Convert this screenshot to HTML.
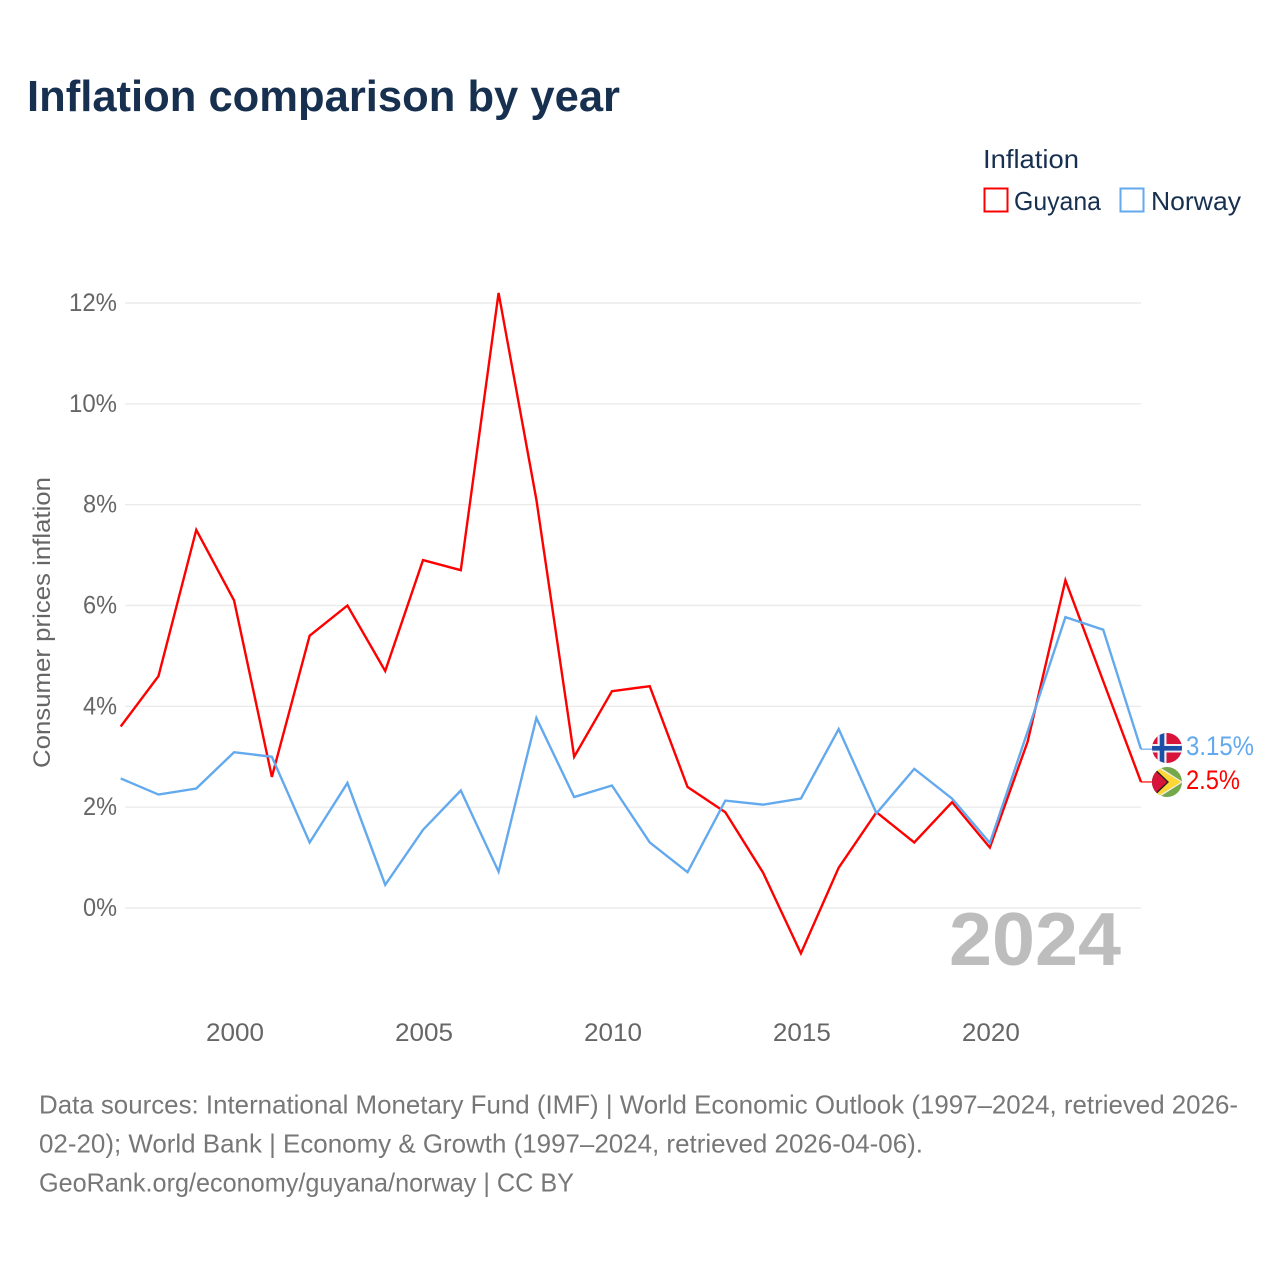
<!DOCTYPE html>
<html>
<head>
<meta charset="utf-8">
<title>Inflation comparison by year</title>
<style>
html,body{margin:0;padding:0;background:#fff;}
svg{display:block;}
text{font-family:"Liberation Sans",sans-serif;}
</style>
</head>
<body>
<svg id="chart" width="1280" height="1280" viewBox="0 0 1280 1280" xmlns="http://www.w3.org/2000/svg">
<defs>
<clipPath id="clip-no"><circle cx="1167" cy="748" r="15"/></clipPath>
<clipPath id="clip-gy"><circle cx="1167" cy="782" r="15"/></clipPath>
</defs>
<rect width="1280" height="1280" fill="#fff"/>
<text x="27" y="111" font-size="44" font-weight="bold" fill="#17304f" textLength="593" lengthAdjust="spacingAndGlyphs">Inflation comparison by year</text>

<g id="grid"></g>
<g id="yticks"></g>
<g id="xticks"></g>
<text transform="translate(50,768) rotate(-90)" x="0" y="0" font-size="24" fill="#666" textLength="291" lengthAdjust="spacingAndGlyphs">Consumer prices inflation</text>

<text x="949" y="965" font-size="75" font-weight="bold" fill="#bdbdbd" textLength="172" lengthAdjust="spacingAndGlyphs">2024</text>

<g id="series"></g>

<g>
<text x="983" y="168" font-size="26" fill="#17304f" textLength="96" lengthAdjust="spacingAndGlyphs">Inflation</text>
<rect x="984.5" y="188.5" width="23" height="23" fill="#fff" stroke="#ff0000" stroke-width="2"/>
<text x="1014" y="210" font-size="26" fill="#17304f" textLength="87" lengthAdjust="spacingAndGlyphs">Guyana</text>
<rect x="1120.5" y="188.5" width="23" height="23" fill="#fff" stroke="#63a9ee" stroke-width="2"/>
<text x="1151" y="210" font-size="26" fill="#17304f" textLength="90" lengthAdjust="spacingAndGlyphs">Norway</text>
</g>

<g clip-path="url(#clip-no)">
<rect x="1152" y="733" width="30" height="30" fill="#d8143a"/>
<rect x="1152" y="744" width="30" height="8.5" fill="#eef0f4"/>
<rect x="1157.5" y="733" width="9" height="30" fill="#eef0f4"/>
<rect x="1152" y="746" width="30" height="4.6" fill="#1c4fa8"/>
<rect x="1159.7" y="733" width="4.6" height="30" fill="#1c4fa8"/>
</g>
<g clip-path="url(#clip-gy)">
<rect x="1152" y="767" width="30" height="30" fill="#74a84a"/>
<polygon points="1147,759 1183,782 1147,805" fill="#eeeeee"/>
<polygon points="1147,761 1181,782 1147,803" fill="#fdd835"/>
<polygon points="1146,760 1169,782 1146,804" fill="#222"/>
<polygon points="1146,762 1167,782 1146,802" fill="#d8143a"/>
</g>
<text x="1186" y="755" font-size="26.5" fill="#63a9ee" textLength="68" lengthAdjust="spacingAndGlyphs">3.15%</text>
<text x="1186" y="789" font-size="26.5" fill="#ff0000" textLength="54" lengthAdjust="spacingAndGlyphs">2.5%</text>

<g font-size="26" fill="#777">
<text x="39" y="1113.5" textLength="1199" lengthAdjust="spacingAndGlyphs">Data sources: International Monetary Fund (IMF) | World Economic Outlook (1997–2024, retrieved 2026-</text>
<text x="39" y="1152.5" textLength="884" lengthAdjust="spacingAndGlyphs">02-20); World Bank | Economy &amp; Growth (1997–2024, retrieved 2026-04-06).</text>
<text x="39" y="1191.5" textLength="535" lengthAdjust="spacingAndGlyphs">GeoRank.org/economy/guyana/norway | CC BY</text>
</g>
</svg>
<script>
const years = [1997,1998,1999,2000,2001,2002,2003,2004,2005,2006,2007,2008,2009,2010,2011,2012,2013,2014,2015,2016,2017,2018,2019,2020,2021,2022,2023,2024];
const guyana = [3.6,4.6,7.5,6.1,2.6,5.4,6.0,4.7,6.9,6.7,12.2,8.1,3.0,4.3,4.4,2.4,1.9,0.7,-0.9,0.8,1.9,1.3,2.1,1.2,3.3,6.5,4.5,2.5];
const norway = [2.57,2.25,2.37,3.09,3.0,1.3,2.48,0.46,1.55,2.33,0.72,3.77,2.2,2.43,1.3,0.71,2.13,2.05,2.17,3.55,1.88,2.76,2.17,1.29,3.5,5.77,5.52,3.15];
const yTickValues = [0,2,4,6,8,10,12];
const xTickValues = [2000,2005,2010,2015,2020];

const NS = 'http://www.w3.org/2000/svg';
function xScale(year){ return 120.7 + (year - 1997) * (1141 - 120.7) / (2024 - 1997); }
function yScale(v){ return 908 - v * (908 - 303) / 12; }
function make(tag, attrs, parent){
  const el = document.createElementNS(NS, tag);
  for (const k in attrs) el.setAttribute(k, attrs[k]);
  parent.appendChild(el);
  return el;
}
const gridG = document.getElementById('grid');
const yG = document.getElementById('yticks');
const xG = document.getElementById('xticks');
const seriesG = document.getElementById('series');

yTickValues.forEach(function(v){
  const line = make('line', {x1:125, x2:1141, y1:yScale(v), y2:yScale(v), stroke:'#ebebeb', 'stroke-width':1.4}, gridG);
  
  
  const t = make('text', {x:117, y:yScale(v)+8, 'font-size':25, fill:'#666', 'text-anchor':'end', textLength:(String(v).length*14+20), lengthAdjust:'spacingAndGlyphs'}, yG);
  t.textContent = v + '%';
  
  
});
xTickValues.forEach(function(y){
  const t = make('text', {x:xScale(y)+1, y:1041, 'font-size':25, fill:'#666', 'text-anchor':'middle', textLength:58, lengthAdjust:'spacingAndGlyphs'}, xG);
  t.textContent = y;
  
  
});
function drawSeries(values, color, name){
  const pts = values.map(function(v, i){ return xScale(years[i]) + ',' + yScale(v); }).join(' ');
  const line = make('polyline', {points:pts, fill:'none', stroke:color, 'stroke-width':2.4, 'stroke-linejoin':'miter'}, seriesG);
  
  
  const last = values[values.length - 1];
  const conn = make('line', {x1:xScale(years[years.length-1]), x2:xScale(years[years.length-1]) + 12, y1:yScale(last), y2:yScale(last), stroke:color, 'stroke-width':1.2}, seriesG);
  
  
}
drawSeries(guyana, '#ff0000', 'line-guyana');
drawSeries(norway, '#63a9ee', 'line-norway');
</script>
</body>
</html>
